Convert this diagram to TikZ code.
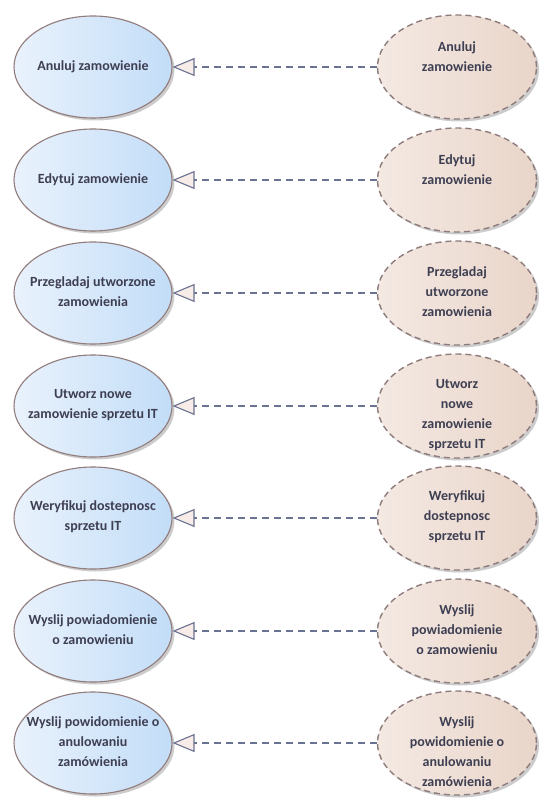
\documentclass[tikz,border=0pt]{standalone}
\usepackage{fontspec}
\setmainfont{Carlito}
\usetikzlibrary{shapes.geometric,arrows.meta,shadows}
\definecolor{ucL}{HTML}{E9F2FC}
\definecolor{ucR}{HTML}{C3DDF8}
\definecolor{ucB}{HTML}{927C7C}
\definecolor{inL}{HTML}{F4E9E3}
\definecolor{inR}{HTML}{E9D5C9}
\definecolor{inB}{HTML}{8E7B7B}
\definecolor{lnC}{HTML}{6A7391}
\definecolor{triF}{HTML}{F8ECE8}
\definecolor{txt}{HTML}{3E3F52}
\newcommand\ucfont{\fontsize{14}{20}\selectfont\bfseries}
\begin{document}
\begin{tikzpicture}[x=1pt,y=-1pt,
  uc/.style={ellipse, draw=ucB, line width=1.1pt, minimum width=158pt, minimum height=102pt,
    inner sep=0pt, left color=ucL, right color=ucR,
    drop shadow={shadow xshift=2.5pt, shadow yshift=-2.5pt, opacity=0.2, fill=black}},
  inst/.style={ellipse, draw=inB, line width=1.4pt, dash pattern=on 6pt off 4pt,
    minimum width=159pt, minimum height=104pt, inner sep=0pt, left color=inL, right color=inR,
    drop shadow={shadow xshift=2.5pt, shadow yshift=-2.5pt, opacity=0.2, fill=black}},
  itext/.style={align=center, font=\ucfont, text=txt, inner sep=0pt},
  conn/.style={draw=lnC, line width=1.1pt, dash pattern=on 7pt off 5pt,
    -{Triangle[length=22pt, width=18pt, fill=triF, line width=1.1pt]}}]
\fill[white] (0,0) rectangle (552,810);
\useasboundingbox (0,0) rectangle (552,810);

% left use cases
\node[uc] (L1) at (93,67)  {};
\node[uc] (L2) at (93,180) {};
\node[uc] (L3) at (93,293) {};
\node[uc] (L4) at (93,406) {};
\node[uc] (L5) at (93,518) {};
\node[uc] (L6) at (93,631) {};
\node[uc] (L7) at (93,743) {};

\node[itext] (S1) at (93,67)  {Anuluj zamowienie};
\node[itext] (S2) at (93,180) {Edytuj zamowienie};
\node[itext] (S3) at (93,292) {Przegladaj utworzone\\zamowienia};
\node[itext] (S4) at (93,405) {Utworz nowe\\zamowienie sprzetu IT};
\node[itext] (S5) at (93,517) {Weryfikuj dostepnosc\\sprzetu IT};
\node[itext] (S6) at (93,630) {Wyslij powiadomienie\\o zamowieniu};
\node[itext] (S7) at (93,742) {Wyslij powidomienie o\\anulowaniu\\zamówienia};

% right instances
\node[inst] (R1) at (457,67)  {};
\node[inst] (R2) at (457,180) {};
\node[inst] (R3) at (457,293) {};
\node[inst] (R4) at (457,406) {};
\node[inst] (R5) at (457,518) {};
\node[inst] (R6) at (457,631) {};
\node[inst] (R7) at (457,743) {};

\node[itext] (T1) at (457,57)  {Anuluj\\zamowienie};
\node[itext] (T2) at (457,170) {Edytuj\\zamowienie};
\node[itext] (T3) at (457,292) {Przegladaj\\utworzone\\zamowienia};
\node[itext] (T4) at (457,415) {Utworz\\nowe\\zamowienie\\sprzetu IT};
\node[itext] (T5) at (457,517) {Weryfikuj\\dostepnosc\\sprzetu IT};
\node[itext] (T6) at (457,630) {Wyslij\\powiadomienie\\o zamowieniu};
\node[itext] (T7) at (457,752) {Wyslij\\powidomienie o\\anulowaniu\\zamówienia};

% connectors
\foreach \i in {1,...,7} {\draw[conn] (R\i) -- (L\i);}
\end{tikzpicture}
\end{document}
